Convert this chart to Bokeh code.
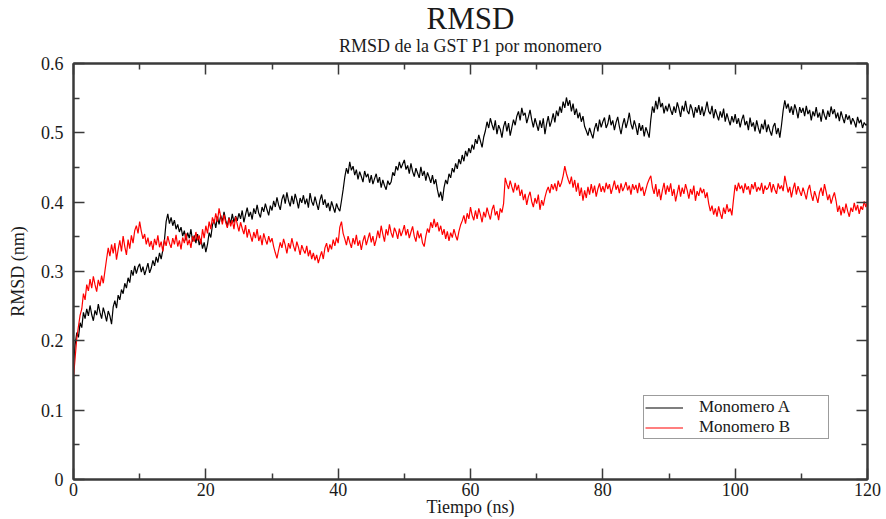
from bokeh.plotting import figure
from bokeh.models import (ColumnDataSource, LinearAxis, FixedTicker, Title,
                          Legend, LegendItem, CustomJSTickFormatter, Range1d)
from bokeh.embed import file_html
from bokeh.resources import INLINE

# RMSD of monomer A (nm), one value every 0.25 ns from 0 to 120 ns
rmsd_a = [
    0.168, 0.195, 0.212, 0.205, 0.226, 0.219, 0.241, 0.232, 0.246, 0.236,
    0.251, 0.238, 0.229, 0.244, 0.237, 0.253, 0.241, 0.232, 0.248, 0.239,
    0.228, 0.243, 0.236, 0.224, 0.249, 0.258, 0.247, 0.266, 0.259, 0.274,
    0.268, 0.283, 0.276, 0.291, 0.284, 0.302, 0.294, 0.308, 0.297, 0.306,
    0.311, 0.299, 0.307, 0.295, 0.303, 0.312, 0.298, 0.305, 0.316, 0.308,
    0.321, 0.313, 0.327, 0.318, 0.331, 0.346, 0.372, 0.383, 0.369, 0.378,
    0.366, 0.374, 0.361, 0.368, 0.357, 0.364, 0.351, 0.359, 0.345, 0.356,
    0.348, 0.361, 0.343, 0.352, 0.341, 0.354, 0.338, 0.347, 0.333, 0.342,
    0.328, 0.339, 0.356, 0.349, 0.367, 0.375, 0.363, 0.379, 0.368, 0.381,
    0.372, 0.386, 0.374, 0.365, 0.378, 0.369, 0.383, 0.371, 0.380, 0.373,
    0.384, 0.376, 0.388, 0.371, 0.382, 0.392, 0.379, 0.386, 0.375, 0.391,
    0.383, 0.396, 0.384, 0.378, 0.393, 0.386, 0.398, 0.389, 0.381, 0.395,
    0.388, 0.402, 0.393, 0.407, 0.396, 0.389, 0.404, 0.411, 0.398, 0.414,
    0.402, 0.394, 0.409, 0.397, 0.412, 0.403, 0.391, 0.406, 0.399, 0.410,
    0.397, 0.405, 0.392, 0.413, 0.401, 0.395, 0.408, 0.398, 0.389, 0.403,
    0.411, 0.396, 0.404, 0.392, 0.399, 0.387, 0.401, 0.393, 0.385, 0.398,
    0.391, 0.387, 0.402, 0.418, 0.436, 0.449, 0.441, 0.458, 0.446, 0.452,
    0.439, 0.447, 0.433, 0.444, 0.437, 0.429, 0.445, 0.436, 0.441, 0.428,
    0.439, 0.426, 0.434, 0.441, 0.428, 0.436, 0.421, 0.432, 0.424, 0.418,
    0.431, 0.425, 0.429, 0.443, 0.438, 0.452, 0.446, 0.458, 0.449, 0.455,
    0.461, 0.447, 0.453, 0.441, 0.456, 0.444, 0.437, 0.449, 0.442, 0.435,
    0.451, 0.438, 0.445, 0.431, 0.443, 0.436, 0.428, 0.439, 0.426, 0.433,
    0.418, 0.407, 0.415, 0.402, 0.421, 0.432, 0.426, 0.441, 0.435, 0.449,
    0.443, 0.456, 0.448, 0.462, 0.455, 0.468, 0.459, 0.474, 0.466, 0.478,
    0.471, 0.483, 0.476, 0.491, 0.484, 0.497, 0.488, 0.479, 0.494, 0.503,
    0.516, 0.507, 0.521, 0.512, 0.504, 0.518, 0.498, 0.511, 0.505, 0.493,
    0.509, 0.517, 0.502, 0.514, 0.496, 0.508, 0.519, 0.511, 0.524, 0.531,
    0.518, 0.536, 0.525, 0.529, 0.514, 0.523, 0.533, 0.519, 0.508, 0.521,
    0.512, 0.503, 0.518, 0.507, 0.521, 0.498, 0.513, 0.524, 0.509, 0.517,
    0.528, 0.515, 0.532, 0.524, 0.538, 0.529, 0.545, 0.536, 0.551, 0.539,
    0.547, 0.531, 0.542, 0.526, 0.535, 0.521, 0.529, 0.516, 0.524, 0.509,
    0.503, 0.496, 0.507, 0.499, 0.492, 0.506, 0.514, 0.502, 0.519, 0.508,
    0.516, 0.522, 0.507, 0.513, 0.526, 0.511, 0.518, 0.504, 0.515, 0.523,
    0.509, 0.498, 0.512, 0.521, 0.507, 0.516, 0.529, 0.513, 0.505, 0.518,
    0.509, 0.497, 0.514, 0.503, 0.511, 0.495, 0.508, 0.501, 0.493, 0.519,
    0.538, 0.529, 0.546, 0.534, 0.552, 0.537, 0.543, 0.528, 0.539, 0.531,
    0.542, 0.533, 0.526, 0.538, 0.529, 0.544, 0.535, 0.523, 0.539, 0.531,
    0.546, 0.532, 0.527, 0.541, 0.534, 0.522, 0.537, 0.529, 0.540, 0.526,
    0.538, 0.524, 0.533, 0.545, 0.531, 0.527, 0.539, 0.521, 0.534, 0.526,
    0.518, 0.531, 0.522, 0.535, 0.516, 0.528, 0.519, 0.511, 0.524, 0.515,
    0.527, 0.513, 0.521, 0.508, 0.519, 0.526, 0.511, 0.517, 0.504, 0.522,
    0.509, 0.515, 0.502, 0.518, 0.507, 0.499, 0.513, 0.505, 0.519, 0.501,
    0.512, 0.503, 0.496, 0.509, 0.514, 0.498, 0.507, 0.493, 0.511, 0.532,
    0.547, 0.535, 0.542, 0.529, 0.538, 0.526, 0.541, 0.533, 0.521, 0.537,
    0.529, 0.536, 0.524, 0.539, 0.527, 0.533, 0.518, 0.531, 0.524, 0.537,
    0.522, 0.529, 0.516, 0.534, 0.525, 0.519, 0.532, 0.523, 0.538, 0.527,
    0.534, 0.521, 0.529, 0.517, 0.531, 0.522, 0.514, 0.527, 0.519, 0.525,
    0.512, 0.521, 0.516, 0.508, 0.523, 0.514, 0.519, 0.507, 0.515, 0.511,
    0.513,
]

# RMSD of monomer B (nm), same sampling
rmsd_b = [
    0.148, 0.176, 0.204, 0.221, 0.237, 0.246, 0.268, 0.259, 0.281, 0.272,
    0.289, 0.276, 0.293, 0.281, 0.271, 0.288, 0.279, 0.294, 0.283, 0.301,
    0.318, 0.334, 0.322, 0.339, 0.326, 0.341, 0.317, 0.332, 0.345, 0.329,
    0.351, 0.336, 0.324, 0.346, 0.333, 0.352, 0.341, 0.359, 0.366, 0.355,
    0.372, 0.358, 0.347, 0.354, 0.339, 0.349, 0.336, 0.344, 0.331, 0.347,
    0.338, 0.352, 0.335, 0.343, 0.329, 0.346, 0.337, 0.351, 0.341, 0.334,
    0.348, 0.339, 0.353, 0.336, 0.345, 0.332, 0.349, 0.341, 0.355, 0.338,
    0.346, 0.334, 0.351, 0.343, 0.357, 0.345, 0.352, 0.339, 0.361, 0.348,
    0.366, 0.355, 0.372, 0.361, 0.378, 0.369, 0.384, 0.372, 0.391, 0.379,
    0.368, 0.382, 0.371, 0.363, 0.377, 0.365, 0.374, 0.361, 0.379, 0.368,
    0.358, 0.371, 0.362, 0.354, 0.367, 0.349, 0.361, 0.352, 0.343, 0.357,
    0.348, 0.361, 0.344, 0.352, 0.338, 0.355, 0.346, 0.339, 0.351, 0.342,
    0.348, 0.336, 0.327, 0.319, 0.331, 0.342, 0.334, 0.347, 0.338, 0.326,
    0.341, 0.333, 0.348, 0.337, 0.329, 0.343, 0.335, 0.324, 0.338, 0.331,
    0.326, 0.337, 0.322, 0.331, 0.318, 0.327, 0.316, 0.324, 0.312, 0.321,
    0.329, 0.318, 0.334, 0.341, 0.328, 0.339, 0.332, 0.346, 0.337, 0.349,
    0.341, 0.364, 0.372, 0.355, 0.347, 0.338, 0.351, 0.342, 0.334, 0.348,
    0.339, 0.353, 0.337, 0.345, 0.331, 0.344, 0.352, 0.338, 0.347, 0.356,
    0.342, 0.351, 0.337, 0.346, 0.359, 0.348, 0.366, 0.354, 0.343, 0.361,
    0.352, 0.368, 0.356, 0.349, 0.363, 0.357, 0.347, 0.362, 0.351, 0.358,
    0.367, 0.352, 0.361, 0.348, 0.357, 0.365, 0.351, 0.343, 0.359, 0.348,
    0.355, 0.341, 0.336, 0.351, 0.362, 0.356, 0.371, 0.363, 0.376, 0.364,
    0.371, 0.358, 0.366, 0.353, 0.361, 0.347, 0.358, 0.344, 0.356, 0.349,
    0.361, 0.352, 0.345, 0.358, 0.367, 0.373, 0.381, 0.369, 0.384, 0.376,
    0.393, 0.381, 0.374, 0.388, 0.376, 0.391, 0.382, 0.371, 0.386, 0.378,
    0.392, 0.383, 0.375, 0.389, 0.396, 0.381, 0.387, 0.374, 0.391, 0.385,
    0.398, 0.435, 0.426, 0.419, 0.431, 0.422, 0.414, 0.428, 0.417, 0.425,
    0.409, 0.418, 0.403, 0.412, 0.396, 0.408, 0.415, 0.401, 0.393, 0.406,
    0.398, 0.411, 0.389, 0.403, 0.395, 0.407, 0.416, 0.422, 0.413, 0.426,
    0.418, 0.427, 0.416, 0.431, 0.422, 0.428, 0.438, 0.452, 0.441, 0.433,
    0.426, 0.437, 0.421, 0.432, 0.415, 0.428, 0.409, 0.421, 0.402, 0.417,
    0.406, 0.422, 0.411, 0.426, 0.413, 0.424, 0.408, 0.419, 0.427, 0.415,
    0.423, 0.414, 0.428, 0.419, 0.426, 0.412, 0.421, 0.431, 0.418, 0.425,
    0.413, 0.427, 0.416, 0.422, 0.429, 0.417, 0.424, 0.411, 0.426, 0.418,
    0.425, 0.413, 0.428, 0.416, 0.422, 0.409, 0.418, 0.427, 0.433, 0.438,
    0.421, 0.412, 0.426, 0.408, 0.419, 0.403, 0.417, 0.428, 0.411, 0.424,
    0.415, 0.427, 0.409, 0.419, 0.401, 0.413, 0.425, 0.408, 0.421, 0.412,
    0.426, 0.417, 0.405, 0.419, 0.411, 0.424, 0.402, 0.416, 0.409, 0.421,
    0.413, 0.419, 0.406, 0.414, 0.398, 0.387, 0.395, 0.382, 0.391, 0.379,
    0.394, 0.384, 0.376, 0.392, 0.383, 0.397, 0.386, 0.391, 0.381, 0.404,
    0.425, 0.416, 0.428, 0.419, 0.424, 0.413, 0.427, 0.418, 0.423, 0.411,
    0.426, 0.419, 0.429, 0.415, 0.422, 0.417, 0.428, 0.412, 0.424, 0.418,
    0.421, 0.429, 0.414, 0.426, 0.418, 0.412, 0.427, 0.419, 0.424, 0.416,
    0.438, 0.426, 0.414, 0.422, 0.407, 0.419, 0.428, 0.411, 0.423, 0.416,
    0.409, 0.421, 0.413, 0.404, 0.418, 0.425, 0.411, 0.402, 0.416, 0.408,
    0.399, 0.414, 0.421, 0.409, 0.426, 0.415, 0.403, 0.411, 0.398, 0.407,
    0.414, 0.402, 0.386, 0.395, 0.381, 0.393, 0.384, 0.398, 0.387, 0.379,
    0.392, 0.386, 0.399, 0.388, 0.396, 0.383, 0.394, 0.389, 0.401, 0.393,
    0.402,
]

# Simulation time axis (ns)
time_a = [i * 0.25 for i in range(len(rmsd_a))]
time_b = [i * 0.25 for i in range(len(rmsd_b))]

x_ticks = [0, 20, 40, 60, 80, 100, 120]
x_minor = [10, 30, 50, 70, 90, 110]
y_ticks = [0, 0.1, 0.2, 0.3, 0.4, 0.5, 0.6]
y_minor = [0.05, 0.15, 0.25, 0.35, 0.45, 0.55]

FONT = "Liberation Serif"
TEXT_COLOR = "#1a1a1a"
AXIS_COLOR = "#3a3a3a"

src_a = ColumnDataSource(dict(t=time_a, rmsd=rmsd_a))
src_b = ColumnDataSource(dict(t=time_b, rmsd=rmsd_b))

p = figure(width=886, height=519, output_backend="svg", toolbar_location=None,
           title=None, x_range=Range1d(0, 120), y_range=Range1d(0, 0.6),
           min_border_left=73, min_border_right=19,
           min_border_top=63, min_border_bottom=39)
p.xaxis.visible = False
p.yaxis.visible = False
p.grid.visible = False
p.outline_line_color = AXIS_COLOR
p.outline_line_width = 2

fmt = CustomJSTickFormatter(code="return String(Math.round(tick * 10) / 10);")


def style_axis(ax, labels):
    ax.axis_line_color = AXIS_COLOR
    ax.axis_line_width = 2
    ax.major_tick_line_color = AXIS_COLOR
    ax.minor_tick_line_color = AXIS_COLOR
    ax.major_tick_line_width = 1.5
    ax.minor_tick_line_width = 1.5
    ax.major_tick_in = 11
    ax.major_tick_out = 0
    ax.minor_tick_in = 6
    ax.minor_tick_out = 0
    ax.major_label_text_font = FONT
    ax.major_label_text_font_size = "18px"
    ax.major_label_text_color = TEXT_COLOR
    ax.axis_label_text_font = FONT
    ax.axis_label_text_font_style = "normal"
    ax.axis_label_text_font_size = "18px"
    ax.axis_label_text_color = TEXT_COLOR
    if not labels:
        ax.major_label_text_font_size = "0px"
        ax.major_label_text_alpha = 0
        ax.major_label_standoff = 0


xb = LinearAxis(ticker=FixedTicker(ticks=x_ticks, minor_ticks=x_minor),
                formatter=fmt, axis_label="Tiempo (ns)",
                major_label_standoff=3, axis_label_standoff=-2)
style_axis(xb, True)
yl = LinearAxis(ticker=FixedTicker(ticks=y_ticks, minor_ticks=y_minor),
                formatter=fmt, axis_label="RMSD (nm)",
                major_label_standoff=10, axis_label_standoff=10)
style_axis(yl, True)
xt = LinearAxis(ticker=FixedTicker(ticks=x_ticks, minor_ticks=x_minor))
style_axis(xt, False)
yr = LinearAxis(ticker=FixedTicker(ticks=y_ticks, minor_ticks=y_minor))
style_axis(yr, False)

p.add_layout(xb, "below")
p.add_layout(yl, "left")
p.add_layout(xt, "above")
p.add_layout(yr, "right")

subtitle = Title(text="RMSD de la GST P1 por monomero", align="center",
                 text_font=FONT, text_font_size="18px",
                 text_font_style="normal", text_color=TEXT_COLOR, standoff=15)
main_title = Title(text="RMSD", align="center", text_font=FONT,
                   text_font_size="31px", text_font_style="normal",
                   text_color=TEXT_COLOR, standoff=-18)
p.add_layout(subtitle, "above")
p.add_layout(main_title, "above")

line_a = p.line("t", "rmsd", source=src_a, line_color="black", line_width=1.2)
line_b = p.line("t", "rmsd", source=src_b, line_color="#ff0000", line_width=1.2)

legend = Legend(items=[LegendItem(label="Monomero A", renderers=[line_a]),
                       LegendItem(label="Monomero B", renderers=[line_b])],
                location=(570, 40), orientation="vertical",
                label_text_font=FONT, label_text_font_size="17px",
                label_text_color=TEXT_COLOR, label_height=17,
                label_width=128, glyph_width=38, glyph_height=17,
                spacing=0, padding=1, margin=0, label_standoff=16,
                border_line_color=AXIS_COLOR, border_line_width=1.5,
                background_fill_alpha=1)
p.add_layout(legend, "center")

open("out.html", "w").write(file_html(p, INLINE))
